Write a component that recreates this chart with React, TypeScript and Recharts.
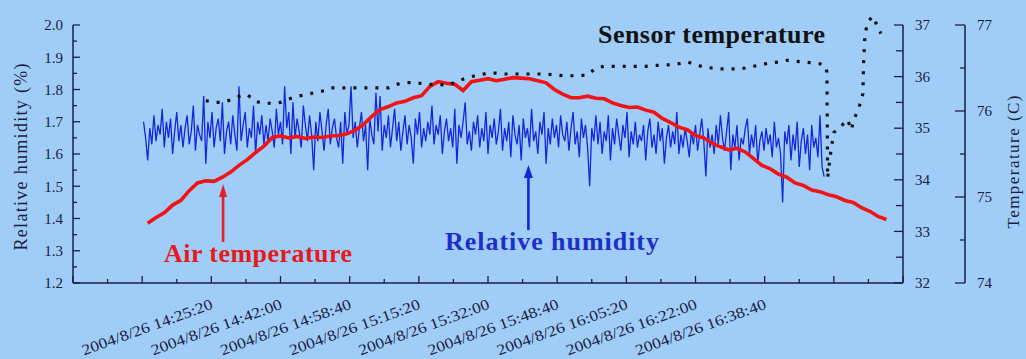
import React from "react"
import { LineChart, Line, XAxis, YAxis, ReferenceLine } from "recharts"

// times are seconds after 2004/8/26 14:08:40
const xTicks = [0, 500, 1000, 1500, 2000, 2500, 3000, 3500, 4000, 4500, 5000, 5500, 6000, 6500, 7000, 7500, 8000, 8500, 9000, 9500, 10000, 10500, 11000, 11500, 12000]
const labeledTimes = [1000, 2000, 3000, 4000, 5000, 6000, 7000, 8000, 9000]
const timeLabels = [
  "2004/8/26 14:25:20",
  "2004/8/26 14:42:00",
  "2004/8/26 14:58:40",
  "2004/8/26 15:15:20",
  "2004/8/26 15:32:00",
  "2004/8/26 15:48:40",
  "2004/8/26 16:05:20",
  "2004/8/26 16:22:00",
  "2004/8/26 16:38:40",
]

const rhTicks = [1.2, 1.25, 1.3, 1.35, 1.4, 1.45, 1.5, 1.55, 1.6, 1.65, 1.7, 1.75, 1.8, 1.85, 1.9, 1.95, 2.0]
const airTicks = [32, 32.5, 33, 33.5, 34, 34.5, 35, 35.5, 36, 36.5, 37]
const sensorTicks = [74, 74.5, 75, 75.5, 76, 76.5, 77]

// relative humidity, one sample every 30 s from t = 1020
const rhStart = 1020
const rhStep = 30
const humidity = [
  1.70, 1.65, 1.58, 1.68, 1.63, 1.72, 1.64, 1.69, 1.66, 1.74, 1.62, 1.70, 1.65, 1.71, 1.60, 1.67, 1.73, 1.64, 1.69, 1.62,
  1.68, 1.72, 1.63, 1.67, 1.75, 1.61, 1.69, 1.66, 1.64, 1.78, 1.57, 1.70, 1.65, 1.73, 1.62, 1.68, 1.71, 1.64, 1.76, 1.60,
  1.67, 1.70, 1.63, 1.72, 1.66, 1.61, 1.81, 1.64, 1.69, 1.73, 1.62, 1.68, 1.65, 1.75, 1.60, 1.70, 1.66, 1.72, 1.63, 1.69,
  1.64, 1.71, 1.67, 1.62, 1.74, 1.66, 1.70, 1.63, 1.81, 1.68, 1.73, 1.60, 1.76, 1.65, 1.71, 1.67, 1.62, 1.75, 1.69, 1.64,
  1.72, 1.66, 1.55, 1.70, 1.64, 1.73, 1.67, 1.61, 1.69, 1.74, 1.63, 1.68, 1.71, 1.65, 1.62, 1.70, 1.57, 1.73, 1.66, 1.69,
  1.81, 1.65, 1.70, 1.62, 1.68, 1.73, 1.64, 1.69, 1.55, 1.71, 1.66, 1.63, 1.79, 1.67, 1.78, 1.61, 1.69, 1.65, 1.72, 1.62,
  1.68, 1.74, 1.64, 1.70, 1.61, 1.67, 1.72, 1.63, 1.69, 1.65, 1.57, 1.71, 1.66, 1.73, 1.62, 1.68, 1.64, 1.70, 1.66, 1.75,
  1.63, 1.69, 1.66, 1.72, 1.60, 1.67, 1.71, 1.64, 1.68, 1.62, 1.74, 1.57, 1.69, 1.65, 1.70, 1.76, 1.63, 1.67, 1.61, 1.70,
  1.66, 1.72, 1.62, 1.68, 1.64, 1.73, 1.60, 1.69, 1.65, 1.71, 1.63, 1.67, 1.74, 1.61, 1.68, 1.64, 1.70, 1.59, 1.72, 1.66,
  1.63, 1.69, 1.58, 1.71, 1.65, 1.68, 1.62, 1.74, 1.64, 1.67, 1.60, 1.70, 1.66, 1.73, 1.57, 1.68, 1.63, 1.71, 1.65, 1.69,
  1.62, 1.72, 1.66, 1.64, 1.70, 1.61, 1.68, 1.73, 1.63, 1.67, 1.59, 1.71, 1.65, 1.69, 1.62, 1.50, 1.68, 1.64, 1.72, 1.63,
  1.70, 1.60, 1.67, 1.64, 1.72, 1.58, 1.68, 1.63, 1.71, 1.66, 1.61, 1.69, 1.65, 1.73, 1.59, 1.67, 1.63, 1.70, 1.62, 1.66,
  1.64, 1.69, 1.58, 1.67, 1.71, 1.62, 1.66, 1.60, 1.70, 1.64, 1.68, 1.57, 1.65, 1.69, 1.62, 1.67, 1.63, 1.73, 1.60, 1.66,
  1.62, 1.68, 1.64, 1.59, 1.67, 1.63, 1.69, 1.61, 1.66, 1.71, 1.64, 1.53, 1.68, 1.62, 1.66, 1.60, 1.69, 1.63, 1.72, 1.65,
  1.61, 1.67, 1.73, 1.55, 1.66, 1.62, 1.69, 1.58, 1.65, 1.63, 1.68, 1.71, 1.60, 1.66, 1.62, 1.69, 1.57, 1.64, 1.67, 1.61,
  1.68, 1.63, 1.66, 1.59, 1.70, 1.62, 1.65, 1.60, 1.45, 1.67, 1.63, 1.69, 1.58, 1.66, 1.61, 1.70, 1.56, 1.64, 1.68, 1.60,
  1.66, 1.55, 1.69, 1.62, 1.65, 1.59, 1.72, 1.56, 1.53,
]

// air temperature (deg C, inner right axis), one sample every 120 s from t = 1080
const airStart = 1080
const airStep = 120
const airTemp = [
  33.16, 33.27, 33.36, 33.51, 33.60, 33.79, 33.94, 33.98, 33.97, 34.05,
  34.15, 34.28, 34.39, 34.53, 34.65, 34.82, 34.85, 34.81, 34.84, 34.80,
  34.83, 34.82, 34.85, 34.86, 34.89, 34.96, 35.07, 35.23, 35.36, 35.42,
  35.49, 35.52, 35.59, 35.63, 35.81, 35.90, 35.87, 35.85, 35.73, 35.90,
  35.93, 35.96, 35.92, 35.95, 35.98, 35.97, 35.96, 35.92, 35.88, 35.75,
  35.66, 35.59, 35.59, 35.62, 35.58, 35.57, 35.49, 35.44, 35.40, 35.41,
  35.35, 35.31, 35.19, 35.11, 35.02, 34.97, 34.86, 34.81, 34.71, 34.64,
  34.58, 34.61, 34.54, 34.41, 34.28, 34.21, 34.11, 34.05, 33.94, 33.89,
  33.80, 33.77, 33.71, 33.67, 33.60, 33.56, 33.46, 33.39, 33.29, 33.23,
]

// sensor temperature (deg C, outer right axis)
const sensorTimes = [
  1920, 2040, 2160, 2280, 2400, 2520, 2640, 2760, 2880, 3000,
  3120, 3240, 3360, 3480, 3600, 3720, 3840, 3960, 4080, 4200,
  4320, 4440, 4560, 4680, 4800, 4920, 5040, 5160, 5280, 5400,
  5520, 5640, 5760, 5880, 6000, 6120, 6240, 6360, 6480, 6600,
  6720, 6840, 6960, 7080, 7200, 7320, 7440, 7560, 7680, 7800,
  7920, 8040, 8160, 8280, 8400, 8520, 8640, 8760, 8880, 9000,
  9120, 9240, 9360, 9480, 9600, 9720, 9840, 9960, 10080, 10200,
  10320, 10440, 10560, 10680, 10800, 10880, 10900, 10910, 10960, 11000,
  11100, 11200, 11250, 11300, 11360, 11420, 11430, 11450, 11500, 11570,
  11630, 11680,
]
const sensorTemp = [
  76.12, 76.10, 76.10, 76.13, 76.17, 76.19, 76.11, 76.09, 76.09, 76.10,
  76.14, 76.17, 76.19, 76.21, 76.23, 76.27, 76.27, 76.27, 76.27, 76.27,
  76.27, 76.27, 76.27, 76.31, 76.33, 76.33, 76.32, 76.31, 76.31, 76.30,
  76.33, 76.37, 76.40, 76.42, 76.44, 76.44, 76.43, 76.43, 76.43, 76.43,
  76.43, 76.43, 76.42, 76.41, 76.41, 76.41, 76.42, 76.50, 76.52, 76.52,
  76.52, 76.52, 76.52, 76.52, 76.53, 76.53, 76.54, 76.55, 76.57, 76.54,
  76.51, 76.50, 76.49, 76.49, 76.49, 76.50, 76.52, 76.54, 76.56, 76.57,
  76.59, 76.58, 76.57, 76.56, 76.55, 76.52, 76.45, 75.22, 75.55, 75.75,
  75.82, 75.90, 75.78, 75.92, 76.03, 76.20, 76.55, 76.90, 77.05, 77.10,
  76.98, 76.90,
]

const rhRows = humidity.map((v, i) => ({ t: rhStart + i * rhStep, rh: v }))
const airRows = airTemp.map((v, i) => ({ t: airStart + i * airStep, air: v }))
const sensorRows = sensorTemp.map((v, i) => ({ t: sensorTimes[i], sensor: v }))

const BG = "#a0ccf8"
const AXIS = "#1b1f45"
const INK = "#1a1d3d"
const SERIF = "'Liberation Serif', 'Times New Roman', serif"

function TimeTick({ x, y, payload }: any) {
  const t = payload.value
  const major = t % 1000 === 0
  const idx = labeledTimes.indexOf(t)
  return (
    <g>
      <line x1={x} x2={x} y1={y} y2={y - (major ? 7 : 4)} stroke={AXIS} strokeWidth={1.3} />
      {idx >= 0 && (
        <text
          transform={`translate(${x + 5},${y + 44}) rotate(-20)`}
          textAnchor="middle"
          dy="0.35em"
          fontFamily={SERIF}
          fontSize={15}
          fill={INK}
          textLength={138}
          lengthAdjust="spacingAndGlyphs"
        >
          {timeLabels[idx]}
        </text>
      )}
    </g>
  )
}

function RhTick({ x, y, payload }: any) {
  const v = payload.value
  const major = Math.round(v * 100) % 10 === 0
  return (
    <g>
      <line x1={x} x2={x + (major ? 7 : 4)} y1={y} y2={y} stroke={AXIS} strokeWidth={1.3} />
      {major && (
        <text x={x - 10} y={y} dy="0.35em" textAnchor="end" fontFamily={SERIF} fontSize={15} fill={INK}>
          {v.toFixed(1)}
        </text>
      )}
    </g>
  )
}

function RightTick({ x, y, payload, majorLen, minorLen }: any) {
  const v = payload.value
  const major = Number.isInteger(v)
  return (
    <g>
      <line x1={x} x2={x - (major ? majorLen : minorLen)} y1={y} y2={y} stroke={AXIS} strokeWidth={1.3} />
      {major && (
        <text x={x + 12} y={y} dy="0.35em" textAnchor="start" fontFamily={SERIF} fontSize={15} fill={INK}>
          {v}
        </text>
      )}
    </g>
  )
}

function arrowShape(color: string, head: number, headW: number) {
  return (p: any) => {
    const { x1, y1, x2, y2 } = p
    const tipY = Math.min(y1, y2)
    const baseY = Math.max(y1, y2)
    const x = (x1 + x2) / 2
    return (
      <g>
        <line x1={x} x2={x} y1={baseY} y2={tipY + head - 1} stroke={color} strokeWidth={2.6} />
        <polygon points={`${x - headW / 2},${tipY + head} ${x + headW / 2},${tipY + head} ${x},${tipY}`} fill={color} />
      </g>
    )
  }
}

export default function App() {
  return (
    <div style={{ position: "relative", width: 1026, height: 359, background: BG }}>
      <style>{"body{margin:0} .sensor-line, .sensor-line *{clip-path:none !important}"}</style>
      <LineChart width={1026} height={359} margin={{ top: 25, right: 0, bottom: 0, left: 0 }}>
        <XAxis
          type="number"
          dataKey="t"
          domain={[0, 12000]}
          ticks={xTicks}
          interval={0}
          height={76}
          tickSize={0}
          tickMargin={0}
          tickLine={false}
          axisLine={{ stroke: AXIS, strokeWidth: 1.5 }}
          tick={<TimeTick />}
        />
        <YAxis
          yAxisId="rh"
          orientation="left"
          type="number"
          domain={[1.2, 2.0]}
          ticks={rhTicks}
          interval={0}
          width={73}
          tickSize={0}
          tickMargin={0}
          tickLine={false}
          axisLine={{ stroke: AXIS, strokeWidth: 1.5 }}
          tick={<RhTick />}
        />
        <YAxis
          yAxisId="air"
          orientation="right"
          type="number"
          domain={[32, 37]}
          ticks={airTicks}
          interval={0}
          width={62}
          tickSize={0}
          tickMargin={0}
          tickLine={false}
          axisLine={{ stroke: AXIS, strokeWidth: 1.5 }}
          tick={<RightTick majorLen={9} minorLen={7} />}
        />
        <YAxis
          yAxisId="sensor"
          orientation="right"
          type="number"
          domain={[74, 77]}
          allowDataOverflow
          ticks={sensorTicks}
          interval={0}
          width={61}
          tickSize={0}
          tickMargin={0}
          tickLine={false}
          axisLine={{ stroke: AXIS, strokeWidth: 1.5 }}
          tick={<RightTick majorLen={10} minorLen={5} />}
        />

        <Line
          yAxisId="rh"
          data={rhRows}
          dataKey="rh"
          type="linear"
          stroke="#1428d8"
          strokeWidth={1.3}
          dot={false}
          activeDot={false}
          isAnimationActive={false}
        />
        <Line
          yAxisId="air"
          data={airRows}
          dataKey="air"
          type="linear"
          stroke="#f01414"
          strokeWidth={3.6}
          dot={false}
          activeDot={false}
          isAnimationActive={false}
        />
        <Line
          className="sensor-line"
          yAxisId="sensor"
          data={sensorRows}
          dataKey="sensor"
          type="linear"
          stroke="#111111"
          strokeWidth={3.2}
          strokeDasharray="3 8"
          dot={false}
          activeDot={false}
          isAnimationActive={false}
        />

        <ReferenceLine
          yAxisId="rh"
          segment={[{ x: 2170, y: 1.327 }, { x: 2170, y: 1.507 }]}
          shape={arrowShape("#e4202a", 13, 8)}
        />
        <ReferenceLine
          yAxisId="rh"
          segment={[{ x: 6584, y: 1.364 }, { x: 6584, y: 1.566 }]}
          shape={arrowShape("#1428d8", 13, 9)}
        />
      </LineChart>

      <svg width={1026} height={359} style={{ position: "absolute", left: 0, top: 0, pointerEvents: "none" }}>
        <text
          transform="translate(21,157) rotate(-90)"
          textAnchor="middle"
          dy="0.35em"
          fontFamily={SERIF}
          fontSize={18}
          fill={INK}
          textLength={187}
          lengthAdjust="spacing"
        >
          Relative humidity (%)
        </text>
        <text
          transform="translate(1013,162) rotate(-90)"
          textAnchor="middle"
          dy="0.35em"
          fontFamily={SERIF}
          fontSize={17}
          fill={INK}
          textLength={133}
          lengthAdjust="spacing"
        >
          Temperature (C)
        </text>
        <text x={598} y={43} fontFamily={SERIF} fontSize={26} fontWeight="bold" fill="#121212" textLength={227} lengthAdjust="spacing">
          Sensor temperature
        </text>
        <text x={164} y={262} fontFamily={SERIF} fontSize={26} fontWeight="bold" fill="#e41b1b" textLength={188} lengthAdjust="spacing">
          Air temperature
        </text>
        <text x={445} y={250} fontFamily={SERIF} fontSize={26} fontWeight="bold" fill="#1c2fc8" textLength={214} lengthAdjust="spacing">
          Relative humidity
        </text>
      </svg>
    </div>
  )
}
